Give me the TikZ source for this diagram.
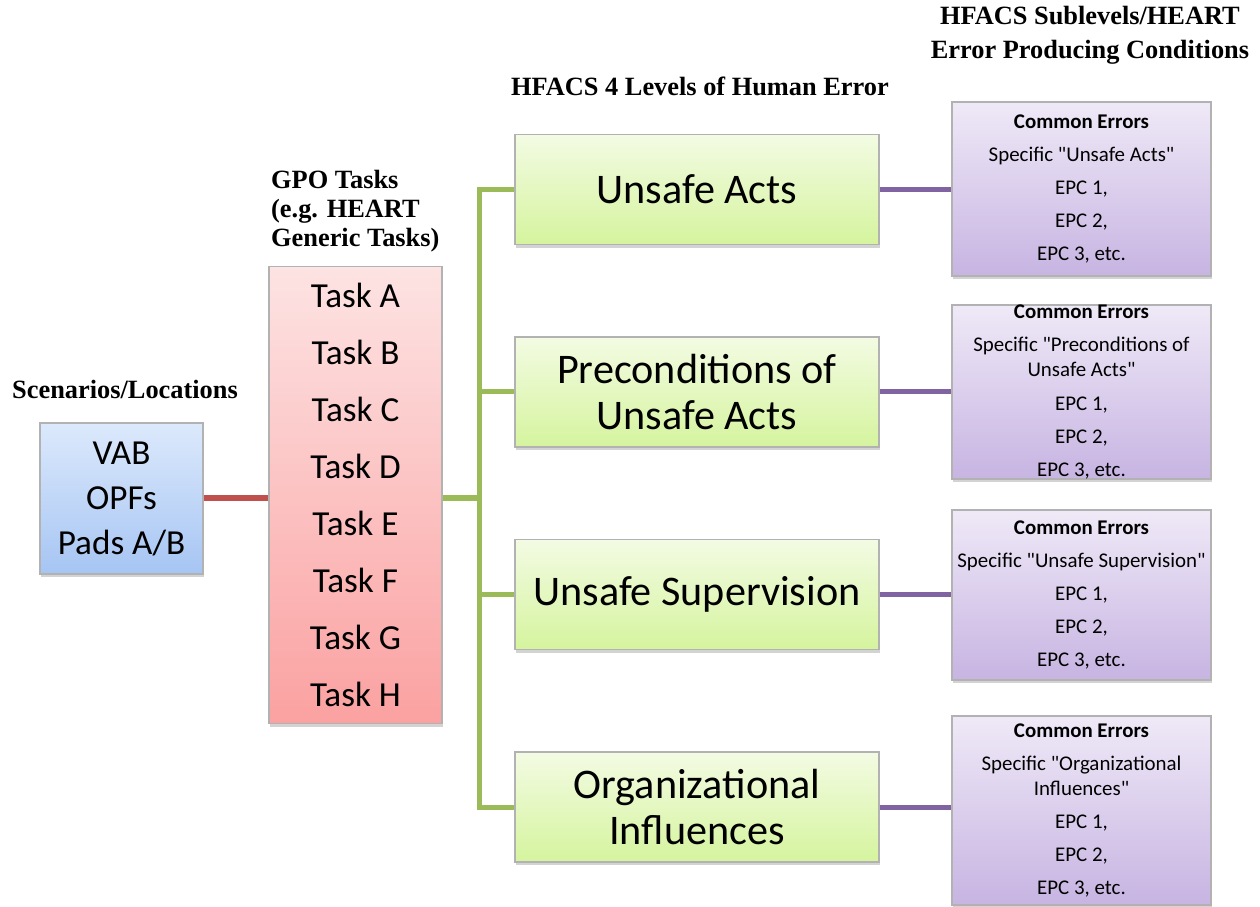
\documentclass[tikz,border=0pt]{standalone}
\usepackage{fontspec}
\setmainfont[Ligatures=TeXOff]{Carlito}
\newfontfamily\titlefont{Liberation Serif}
\usetikzlibrary{shadows}

\definecolor{locTop}{HTML}{DCE9FC}
\definecolor{locBot}{HTML}{A6C5F3}
\definecolor{taskTop}{HTML}{FDE3E3}
\definecolor{taskBot}{HTML}{FBA1A1}
\definecolor{levelTop}{HTML}{F3FBE3}
\definecolor{levelBot}{HTML}{D5F49E}
\definecolor{subTop}{HTML}{EFE9F7}
\definecolor{subBot}{HTML}{C7B4E2}
\definecolor{redLink}{HTML}{C0504D}
\definecolor{greenLink}{HTML}{9BBB59}
\definecolor{purpleLink}{HTML}{8064A2}

\tikzset{
  box/.style={draw=black!30, line width=0.6pt, align=center, inner sep=0pt,
    drop shadow={shadow xshift=0.7pt, shadow yshift=-1.8pt, opacity=0.35}},
  locbox/.style={box, top color=locTop, bottom color=locBot,
    minimum width=3.26cm, minimum height=3.02cm, font=\fontsize{20}{25.6}\selectfont},
  taskbox/.style={box, top color=taskTop, bottom color=taskBot,
    minimum width=3.46cm, minimum height=9.14cm, font=\fontsize{20}{32.4}\selectfont},
  levelbox/.style={box, top color=levelTop, bottom color=levelBot,
    minimum width=7.28cm, minimum height=2.2cm, font=\fontsize{24}{26.5}\selectfont},
  subbox/.style={box, top color=subTop, bottom color=subBot,
    minimum width=5.18cm, font=\fontsize{11.9}{14.3}\selectfont},
  heading/.style={font=\titlefont\bfseries\fontsize{15}{19.4}\selectfont, align=center},
  link/.style={line width=0.1cm},
}

\begin{document}
\begin{tikzpicture}
    \useasboundingbox (0,0) rectangle (25.2,-18.14);

    % column headings
    \node[heading] (hdLoc) at (2.5,-7.78) {Scenarios/Locations};
    \node[heading, align=left, anchor=west, font=\titlefont\bfseries\fontsize{15}{16.5}\selectfont] (hdTask) at (5.3,-4.22) {GPO Tasks\\(e.g. HEART\\Generic Tasks)};
    \node[heading] (hdLevel) at (14.0,-1.72) {HFACS 4 Levels of Human Error};
    \node[heading] (hdSub) at (21.8,-0.7) {HFACS Sublevels/HEART\\Error Producing Conditions};

    % boxes
    \node[locbox] (loc) at (2.43,-9.97) {VAB\\OPFs\\Pads A/B};
    \node[taskbox] (tasks) at (7.11,-9.9) {Task A\\Task B\\Task C\\Task D\\Task E\\Task F\\Task G\\Task H};

    \node[levelbox] (acts) at (13.94,-3.79) {Unsafe Acts};
    \node[levelbox] (pre) at (13.94,-7.84) {Preconditions of\\Unsafe Acts};
    \node[levelbox] (sup) at (13.94,-11.89) {Unsafe Supervision};
    \node[levelbox] (org) at (13.94,-16.14) {Organizational\\Influences};

    \node[subbox, minimum height=3.48cm] (ce1) at (21.63,-3.78) {\textbf{Common Errors}\\[0.16cm]Specific "Unsafe Acts"\\[0.16cm]EPC 1,\\[0.16cm]EPC 2,\\[0.16cm]EPC 3, etc.};
    \node[subbox, minimum height=3.44cm] (ce2) at (21.63,-7.84) {\textbf{Common Errors}\\[0.16cm]Specific "Preconditions of\\Unsafe Acts"\\[0.16cm]EPC 1,\\[0.16cm]EPC 2,\\[0.16cm]EPC 3, etc.};
    \node[subbox, minimum height=3.4cm] (ce3) at (21.63,-11.9) {\textbf{Common Errors}\\[0.16cm]Specific "Unsafe Supervision"\\[0.16cm]EPC 1,\\[0.16cm]EPC 2,\\[0.16cm]EPC 3, etc.};
    \node[subbox, minimum height=3.78cm] (ce4) at (21.63,-16.21) {\textbf{Common Errors}\\[0.16cm]Specific "Organizational\\Influences"\\[0.16cm]EPC 1,\\[0.16cm]EPC 2,\\[0.16cm]EPC 3, etc.};

    % connectors
    \coordinate (trunk) at (9.58,0);
    \draw[link, redLink] (loc.east |- 0,-9.96) -- (tasks.west |- 0,-9.96);
    \draw[link, greenLink] (tasks.east |- 0,-9.96) -- (trunk |- 0,-9.96);
    \draw[link, greenLink] (acts.west) -- (acts.west -| trunk) |- (org.west);
    \draw[link, greenLink] (pre.west -| trunk) -- (pre.west);
    \draw[link, greenLink] (sup.west -| trunk) -- (sup.west);
    \draw[link, purpleLink] (acts.east) -- (acts.east -| ce1.west);
    \draw[link, purpleLink] (pre.east) -- (pre.east -| ce2.west);
    \draw[link, purpleLink] (sup.east) -- (sup.east -| ce3.west);
    \draw[link, purpleLink] (org.east) -- (org.east -| ce4.west);
\end{tikzpicture}
\end{document}
